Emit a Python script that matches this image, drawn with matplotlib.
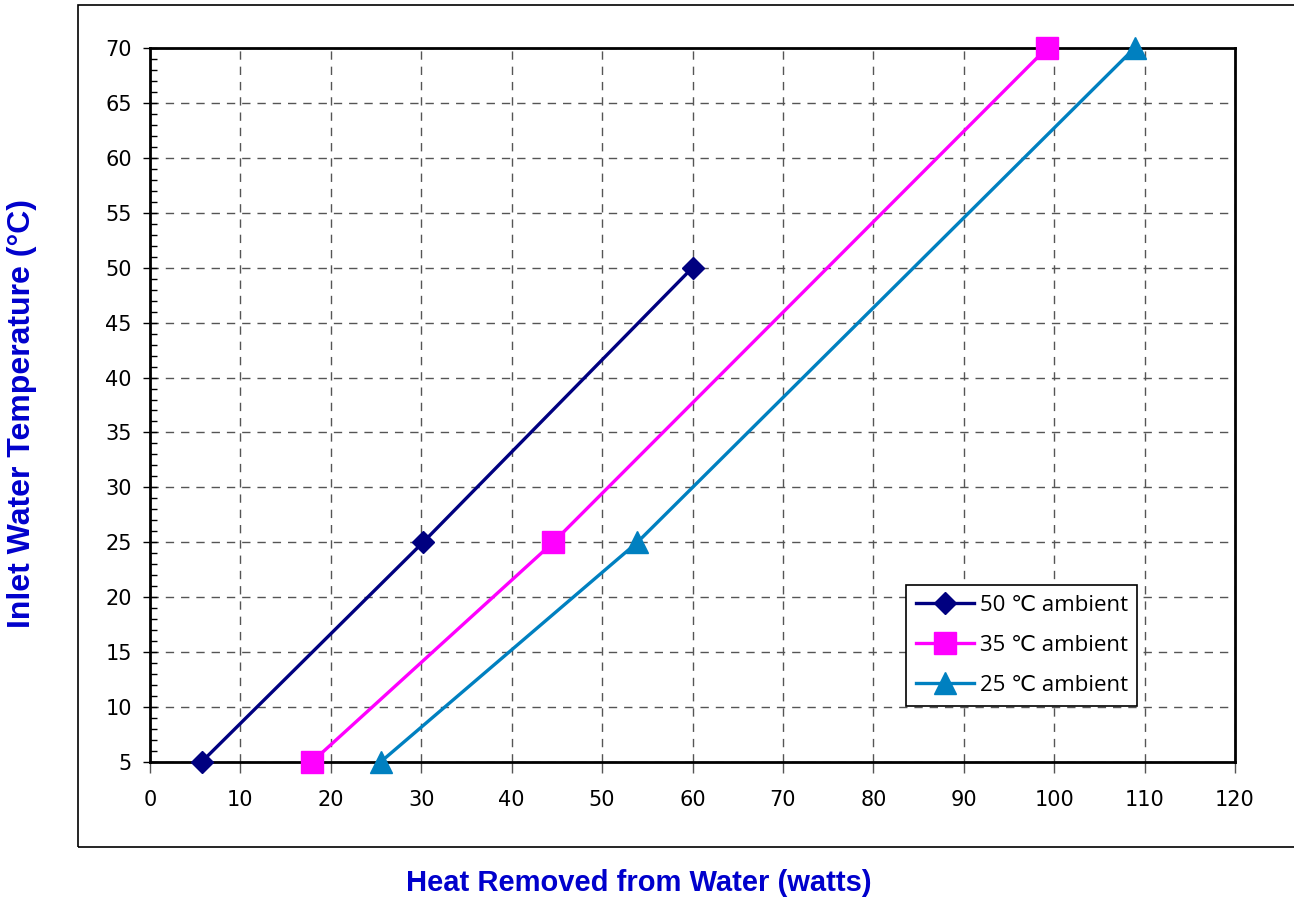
import matplotlib
matplotlib.use("Agg")
import matplotlib.pyplot as plt
from matplotlib.patches import Rectangle
from matplotlib.ticker import MultipleLocator

# series
temps = [5, 25, 50]
heat_50 = [5.7, 30.2, 60.0]
temps_35 = [5, 25, 70]
heat_35 = [17.9, 44.6, 99.2]
temps_25 = [5, 25, 70]
heat_25 = [25.5, 53.9, 108.9]

fig = plt.figure(figsize=(12.94, 9.01), dpi=100)

# outer chart frame
fig.patches.append(Rectangle((78 / 1294, 1 - 847 / 901), 1.0, (847 - 5) / 901,
                             transform=fig.transFigure, fill=False, edgecolor="black",
                             linewidth=1.2))

ax = fig.add_axes([150 / 1294, 1 - 762 / 901, 1085 / 1294, 714 / 901])

ax.plot(heat_50, temps, color="#000080", linewidth=2.4, marker="D", markersize=11,
        label="50 \u2103 ambient", zorder=3, clip_on=False)
ax.plot(heat_35, temps_35, color="#FF00FF", linewidth=2.4, marker="s", markersize=16,
        label="35 \u2103 ambient", zorder=3, clip_on=False)
ax.plot(heat_25, temps_25, color="#0080C0", linewidth=2.4, marker="^", markersize=16,
        label="25 \u2103 ambient", zorder=3, clip_on=False)

ax.set_xlim(0, 120)
ax.set_ylim(5, 70)
ax.xaxis.set_major_locator(MultipleLocator(10))
ax.yaxis.set_major_locator(MultipleLocator(5))
ax.yaxis.set_minor_locator(MultipleLocator(1))
ax.grid(True, which="major", linestyle=(0, (6, 5)), color="#555555", linewidth=1)
ax.set_axisbelow(True)

for s in ax.spines.values():
    s.set_linewidth(2)
ax.tick_params(axis="x", which="major", direction="out", length=8, width=1,
               labelsize=15, pad=12, color="#555555")
ax.tick_params(axis="y", which="major", direction="inout", length=10, width=1,
               labelsize=15, pad=8)
ax.tick_params(axis="y", which="minor", direction="in", length=5, width=1)
for lab in ax.get_xticklabels() + ax.get_yticklabels():
    lab.set_fontfamily("DejaVu Sans")

fig.text(639 / 1294, 1 - 883 / 901, "Heat Removed from Water (watts)", ha="center",
         va="center", fontsize=21, fontweight="bold", color="#0000CC",
         family="Liberation Sans")
fig.text(22 / 1294, 1 - 414 / 901, "Inlet Water Temperature (\u00b0C)", ha="center",
         va="center", rotation=90, fontsize=23, fontweight="bold", color="#0000CC",
         family="Liberation Sans")

leg = ax.legend(loc="lower left", bbox_to_anchor=(906 / 1294, 1 - 706 / 901,
                                                  231 / 1294, 128 / 901),
                bbox_transform=fig.transFigure, mode="expand", fancybox=False,
                edgecolor="black", framealpha=1, borderaxespad=0,
                prop={"family": ["Open Sans", "DejaVu Sans"], "size": 16},
                handlelength=2.6, labelspacing=0.85, handletextpad=0.3, borderpad=0.45)
leg.get_frame().set_linewidth(1.2)

fig.savefig("out.png", dpi=100)
